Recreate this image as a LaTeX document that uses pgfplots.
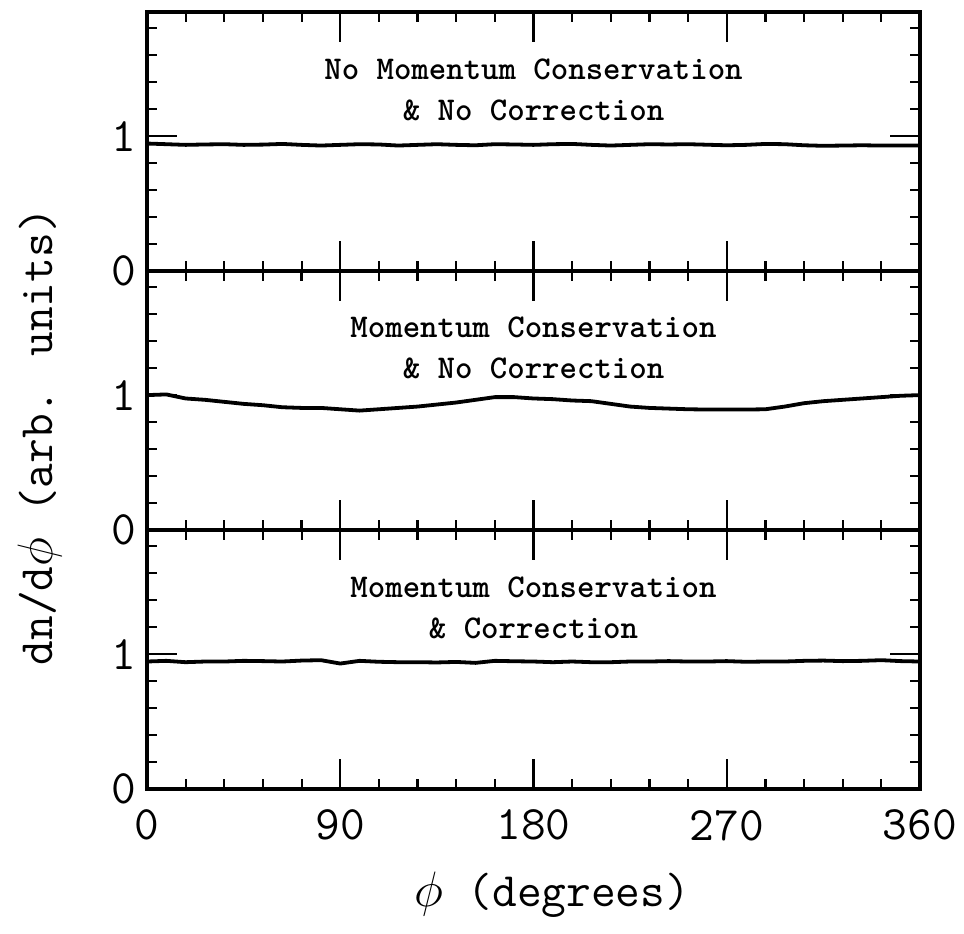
\documentclass[border=0pt]{standalone}
\usepackage{pgfplots}
\pgfplotsset{compat=1.18}
\usepgfplotslibrary{groupplots}

% bin centres (degrees) and dn/dphi for the three cases
\pgfplotstableread{
phi   nomc   mc     mccor
0     0.945  1.000  0.945
9     0.940  1.005  0.950
18    0.935  0.975  0.940
27    0.938  0.965  0.945
36    0.940  0.950  0.945
45    0.935  0.935  0.950
54    0.937  0.925  0.948
63    0.942  0.910  0.945
72    0.935  0.905  0.952
81    0.930  0.905  0.955
90    0.935  0.895  0.930
99    0.940  0.885  0.950
108   0.938  0.895  0.943
117   0.930  0.905  0.940
126   0.935  0.915  0.940
135   0.940  0.930  0.938
144   0.935  0.945  0.942
153   0.932  0.965  0.935
162   0.940  0.985  0.950
171   0.938  0.985  0.947
180   0.935  0.975  0.945
189   0.940  0.970  0.940
198   0.942  0.960  0.945
207   0.935  0.955  0.940
216   0.930  0.935  0.940
225   0.935  0.915  0.945
234   0.940  0.905  0.945
243   0.938  0.900  0.948
252   0.940  0.895  0.945
261   0.936  0.893  0.945
270   0.932  0.893  0.948
279   0.935  0.893  0.943
288   0.942  0.895  0.945
297   0.940  0.915  0.945
306   0.932  0.940  0.950
315   0.928  0.955  0.952
324   0.930  0.965  0.948
333   0.932  0.975  0.950
342   0.930  0.985  0.955
351   0.930  0.995  0.948
360   0.930  1.000  0.945
}\dist

\begin{document}
\begin{tikzpicture}
\begin{groupplot}[
    group style={group size=1 by 3, vertical sep=0pt,
        xticklabels at=edge bottom, xlabels at=edge bottom},
    width=386.5pt, height=129.5pt, scale only axis,
    xmin=0, xmax=360, ymin=0, ymax=1.92,
    xtick={0,90,...,360}, minor x tick num=4,
    ytick={0,1}, minor ytick={0.2,0.4,0.6,0.8,1.2,1.4,1.6,1.8},
    tick pos=both, tick align=inside,
    major tick length=15pt, minor tick length=5pt,
    every tick/.style={line width=1.1pt, black},
    axis line style={line width=1.7pt},
    /pgf/number format/assume math mode=true,
    ticklabel style={font=\fontsize{24}{28}\selectfont\ttfamily},
    xticklabel style={yshift=-7pt},
    yticklabel style={xshift=-2pt},
    cycle list={{black}},
    every axis plot/.append style={line width=1.9pt, no markers},
]
\nextgroupplot
\addplot table[x=phi, y=nomc] {\dist};
\node[align=center, font=\fontsize{16.6}{20.5}\selectfont\ttfamily\bfseries]
    at (axis cs:180,1.34) {No Momentum Conservation\\\& No Correction};

\nextgroupplot[ylabel={dn/d$\phi$ (arb. units)},
    every axis y label/.style={at={(axis description cs:-0.138,0.36)}, rotate=90, anchor=center,
        font=\fontsize{24}{28}\selectfont\ttfamily}]
\addplot table[x=phi, y=mc] {\dist};
\node[align=center, font=\fontsize{16.6}{20.5}\selectfont\ttfamily\bfseries]
    at (axis cs:180,1.35) {Momentum Conservation\\\& No Correction};

\nextgroupplot[xlabel={$\phi$ (degrees)},
    every axis x label/.style={at={(axis description cs:0.524,-0.41)}, anchor=center,
        font=\fontsize{24}{28}\selectfont\ttfamily}]
\addplot table[x=phi, y=mccor] {\dist};
\node[align=center, font=\fontsize{16.6}{20.5}\selectfont\ttfamily\bfseries]
    at (axis cs:180,1.34) {Momentum Conservation\\\& Correction};
\end{groupplot}
% margins as in the reference
\path (group c1r1.north) ++(0,6pt);
\path (group c1r2.west) ++(-73.5pt,0);
\path (group c1r1.east) ++(22pt,0);
\path (group c1r3.south) ++(0,-72.5pt);
\end{tikzpicture}
\end{document}
